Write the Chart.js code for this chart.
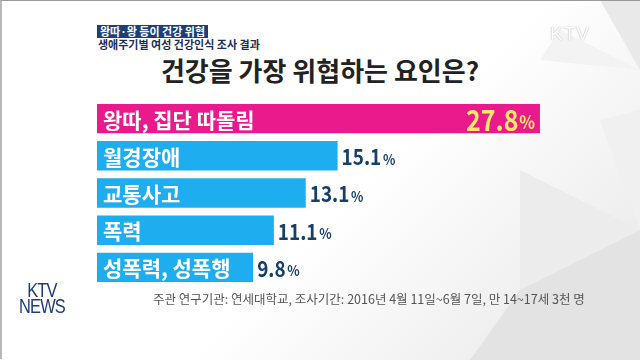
<!DOCTYPE html>
<html><head><meta charset="utf-8">
<script src="https://cdn.jsdelivr.net/npm/chart.js@4.4.0/dist/chart.umd.min.js"></script>
<style>
html,body{margin:0;padding:0;width:640px;height:360px;overflow:hidden;background:#fff;font-family:"Noto Sans CJK KR","Noto Sans",sans-serif;}
#wrap{position:relative;width:640px;height:360px;background:linear-gradient(135deg,#ffffff 0%,#ffffff 55%,#f1f1f1 80%,#e6e6e6 100%);}
#bg{position:absolute;left:0;top:0;}
canvas#c{position:absolute;left:0;top:0;}
.tag{position:absolute;left:97px;top:25px;height:13px;line-height:13px;padding:0 3px;background:#1d3f78;color:#fff;font-size:11px;font-weight:bold;}
.sub{position:absolute;left:98px;top:38px;font-size:11px;font-weight:bold;color:#1d2d55;line-height:13px;}
.title{position:absolute;left:0;width:640px;top:52px;text-align:center;font-size:26px;font-weight:bold;color:#222;line-height:36px;}
.foot{position:absolute;left:153px;top:291px;font-size:12.5px;color:#555;line-height:16px;}
.news{position:absolute;left:19px;top:282px;color:#1d3a7a;font-family:"Liberation Sans Narrow","Liberation Sans",sans-serif;font-size:20px;line-height:16px;text-align:center;letter-spacing:-1px;transform:scaleX(0.82);transform-origin:left top;}
.ktv{position:absolute;left:550px;top:23px;color:#fff;font-family:"Liberation Sans",sans-serif;font-size:19px;letter-spacing:1px;text-shadow:0 0 1px #bbb,0 0 1px #bbb;}
.frame{position:absolute;left:0;top:0;width:638px;height:358px;border-left:2px solid #b8b8b8;border-top:1px solid #999;}
</style></head>
<body><div id="wrap">
<svg id="bg" width="640" height="360">
<polygon points="600,0 640,0 640,70" fill="#e9e9e9"/>
<polygon points="560,30 640,70 540,60" fill="#f3f3f3"/>
<polygon points="520,170 640,230 520,290" fill="#ececec"/>
<polygon points="520,290 640,230 640,360 470,360" fill="#e3e3e3"/>
<polygon points="600,120 640,110 640,230" fill="#f0f0f0"/>
</svg>
<div class="frame"></div>
<div class="ktv">KTV</div>
<div class="tag">왕따·왕 등이 건강 위협</div>
<div class="sub">생애주기별 여성 건강인식 조사 결과</div>
<div class="title">건강을 가장 위협하는 요인은?</div>
<canvas id="c" width="640" height="360"></canvas>
<div class="foot">주관 연구기관: 연세대학교, 조사기간: 2016년 4월 11일~6월 7일, 만 14~17세 3천 명</div>
<div class="news">KTV<br>NEWS</div>
</div>
<script>
const categories = ["왕따, 집단 따돌림", "월경장애", "교통사고", "폭력", "성폭력, 성폭행"];
const values = [27.8, 15.1, 13.1, 11.1, 9.8];
const barColors = ["#ea1a8c", "#1eaef0", "#1eaef0", "#1eaef0", "#1eaef0"];

const labelPlugin = {
  id: 'barLabels',
  afterDatasetsDraw(chart) {
    const ctx = chart.ctx;
    const meta = chart.getDatasetMeta(0);
    meta.data.forEach((bar, i) => {
      const left = bar.base;
      const right = bar.x;
      const y = bar.y;
      ctx.save();
      ctx.textBaseline = 'middle';
      ctx.fillStyle = '#ffffff';
      ctx.font = 'bold 21px "Noto Sans CJK KR"';
      ctx.textAlign = 'left';
      ctx.fillText(categories[i], left + 6, y + 1);
      const num = values[i].toFixed(1);
      const sx = 0.86;
      if (i === 0) {
        ctx.fillStyle = '#fbe86a';
        ctx.translate(right - 5, 0);
        ctx.scale(sx, 1);
        ctx.font = 'bold 19px "Noto Sans CJK KR"';
        ctx.textAlign = 'right';
        const pw = ctx.measureText('%').width;
        ctx.fillText('%', 0, y + 3);
        ctx.font = 'bold 29px "Noto Sans CJK KR"';
        ctx.fillText(num, -pw - 1, y + 1);
      } else {
        ctx.fillStyle = '#173f6b';
        ctx.textAlign = 'left';
        ctx.translate(right + 4, 0);
        ctx.scale(sx, 1);
        ctx.font = 'bold 22px "Noto Sans CJK KR"';
        ctx.fillText(num, 0, y + 1);
        const nw = ctx.measureText(num).width;
        ctx.font = 'bold 15px "Noto Sans CJK KR"';
        ctx.fillText('%', nw + 2, y + 3);
      }
      ctx.restore();
    });
  }
};

new Chart(document.getElementById('c'), {
  type: 'bar',
  data: {
    labels: categories,
    datasets: [{ data: values, backgroundColor: barColors, borderWidth: 0, barPercentage: 0.79, categoryPercentage: 1 }]
  },
  options: {
    indexAxis: 'y',
    responsive: false,
    animation: false,
    layout: { padding: { left: 97, right: 65, top: 100, bottom: 74 } },
    scales: {
      x: { display: false, min: 0, max: 30 },
      y: { display: false }
    },
    plugins: { legend: { display: false }, tooltip: { enabled: false }, title: { display: false } }
  },
  plugins: [labelPlugin]
});
</script>
</body></html>
